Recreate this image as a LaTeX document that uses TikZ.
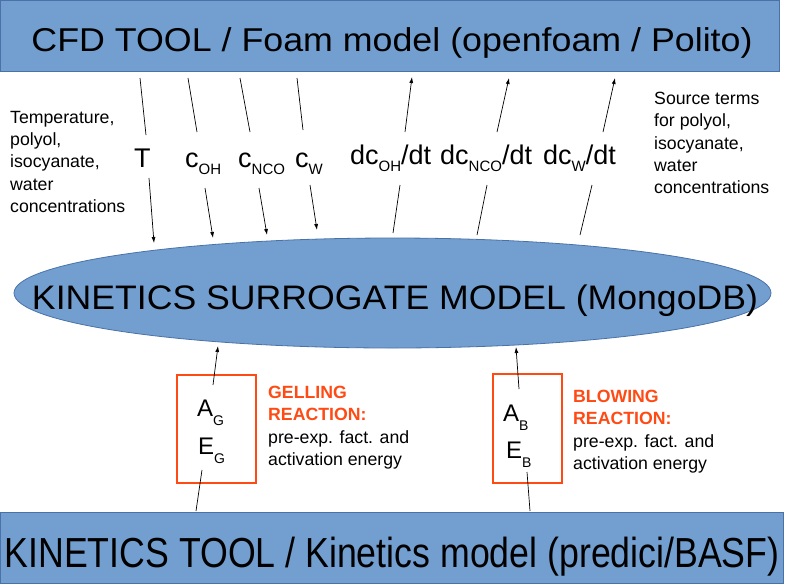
\documentclass[tikz,border=0pt]{standalone}
\usepackage{fontspec}
\setmainfont{Liberation Sans}
\usetikzlibrary{arrows.meta,shapes.geometric}
\definecolor{boxblue}{HTML}{729FCF}
\definecolor{boxedge}{HTML}{4A72A8}
\definecolor{rxorange}{HTML}{FF4A14}
\newcommand{\lsub}[2]{#1\raisebox{-7.5pt}{\fontsize{15}{15}\selectfont #2}}
\newcommand{\bsub}[2]{#1\raisebox{-9pt}{\fontsize{14}{14}\selectfont #2}}
\begin{document}
\begin{tikzpicture}[x=1pt,y=-1pt,
  bluebox/.style={draw=boxedge, fill=boxblue, line width=0.8pt, inner sep=0pt},
  bigtext/.style={inner sep=0pt, anchor=base},
  lbl/.style={inner sep=0pt, anchor=base west, font=\fontsize{27}{30}\selectfont},
  side/.style={inner sep=0pt, align=left, anchor=north west, font=\fontsize{17.7}{22.3}\selectfont},
  arr/.style={-{Latex[length=6pt,width=4pt]}, line width=0.7pt},
  seg/.style={line width=0.7pt},
  rxbox/.style={draw=rxorange, line width=2.6pt, fill=none, inner sep=0pt},
  boxlbl/.style={inner sep=0pt, anchor=base west, font=\fontsize{24}{26}\selectfont},
]
\useasboundingbox (0,0) rectangle (786,584);

% blue blocks
\node[bluebox, minimum width=779pt, minimum height=71pt] (cfd) at (390,36) {};
\node[bigtext] (cfdtext) at (392,51) {\resizebox{721pt}{\height}{\fontsize{33}{36}\selectfont CFD TOOL / Foam model (openfoam / Polito)}};

\node[bluebox, ellipse, minimum width=757pt, minimum height=110pt] (kin) at (392.5,293) {};
\node[bigtext] (kintext) at (395,309) {\resizebox{726pt}{\height}{\fontsize{34}{36}\selectfont KINETICS SURROGATE MODEL (MongoDB)}};

\node[bluebox, minimum width=783pt, minimum height=71pt] (tool) at (392,548) {};
\node[bigtext] (tooltext) at (392,567) {\resizebox{775pt}{\height}{\fontsize{42}{44}\selectfont KINETICS TOOL / Kinetics model (predici/BASF)}};

% variable labels
\node[lbl] (lT) at (134,167) {T};
\node[lbl] (lOH) at (185,167) {\lsub{c}{OH}};
\node[lbl] (lNCO) at (238,167) {\lsub{c}{NCO}};
\node[lbl] (lW) at (295,167) {\lsub{c}{W}};
\node[lbl] (dOH) at (350,164) {\lsub{dc}{OH}/dt};
\node[lbl] (dNCO) at (440,164) {\lsub{dc}{NCO}/dt};
\node[lbl] (dW) at (543,164) {\lsub{dc}{W}/dt};

% side texts
\node[side] (lefttext) at (10,111) {Temperature,\\polyol,\\isocyanate,\\water\\concentrations};
\node[side] (righttext) at (654,92) {Source terms\\for polyol,\\isocyanate,\\water\\concentrations};

% connector coordinates (top)
\coordinate (a1) at (140,78);  \coordinate (a2) at (146,135); \coordinate (a3) at (149,178); \coordinate (a4) at (154,243);
\coordinate (b1) at (188,78);  \coordinate (b2) at (197,132); \coordinate (b3) at (205,188); \coordinate (b4) at (213,238);
\coordinate (c1) at (240,78);  \coordinate (c2) at (250,132); \coordinate (c3) at (259,188); \coordinate (c4) at (267,235);
\coordinate (d1) at (297,78);  \coordinate (d2) at (303,130); \coordinate (d3) at (310,185); \coordinate (d4) at (317,230);
\coordinate (e1) at (393,233); \coordinate (e2) at (400,185); \coordinate (e3) at (405,132); \coordinate (e4) at (412,77);
\coordinate (f1) at (477,235); \coordinate (f2) at (487,185); \coordinate (f3) at (497,132); \coordinate (f4) at (509,78);
\coordinate (g1) at (580,235); \coordinate (g2) at (592,185); \coordinate (g3) at (603,132); \coordinate (g4) at (615,78);

\draw[seg] (a1) -- (a2); \draw[arr] (a3) -- (a4);
\draw[seg] (b1) -- (b2); \draw[arr] (b3) -- (b4);
\draw[seg] (c1) -- (c2); \draw[arr] (c3) -- (c4);
\draw[seg] (d1) -- (d2); \draw[arr] (d3) -- (d4);
\draw[seg] (e1) -- (e2); \draw[arr] (e3) -- (e4);
\draw[seg] (f1) -- (f2); \draw[arr] (f3) -- (f4);
\draw[seg] (g1) -- (g2); \draw[arr] (g3) -- (g4);

% reaction boxes
\node[rxbox, minimum width=79pt, minimum height=108pt] (gel) at (216.5,429) {};
\node[boxlbl] (AG) at (197,416) {\bsub{A}{G}};
\node[boxlbl] (EG) at (198,454) {\bsub{E}{G}};
\node[rxbox, minimum width=69pt, minimum height=109pt] (blo) at (527.5,428.5) {};
\node[boxlbl] (AB) at (503,421) {\bsub{A}{B}};
\node[boxlbl] (EB) at (506,458) {\bsub{E}{B}};

\node[side] (geltext) at (268,386) {\textcolor{rxorange}{\bfseries GELLING}\\\textcolor{rxorange}{\bfseries REACTION:}\\pre-exp. fact. and\\activation energy};
\node[side] (blotext) at (573,390) {\textcolor{rxorange}{\bfseries BLOWING}\\\textcolor{rxorange}{\bfseries REACTION:}\\pre-exp. fact. and\\activation energy};

\coordinate (h1) at (196,511); \coordinate (h2) at (202,470); \coordinate (h3) at (213,385); \coordinate (h4) at (218,346);
\coordinate (k1) at (530,511); \coordinate (k2) at (527,472); \coordinate (k3) at (519,389); \coordinate (k4) at (516,347);
\draw[seg] (h1) -- (h2); \draw[arr] (h3) -- (h4);
\draw[seg] (k1) -- (k2); \draw[arr] (k3) -- (k4);
\end{tikzpicture}
\end{document}
